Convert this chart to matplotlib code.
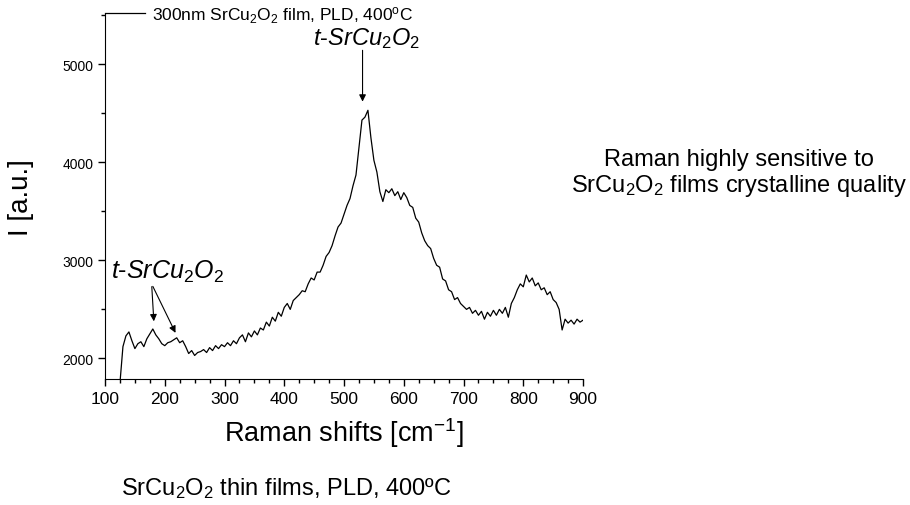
import numpy as np
import matplotlib
matplotlib.use("Agg")
import matplotlib.pyplot as plt
from matplotlib.ticker import MultipleLocator

plt.rcParams['font.family'] = ['Liberation Sans', 'DejaVu Sans']
plt.rcParams['mathtext.fontset'] = 'custom'
plt.rcParams['mathtext.rm'] = 'Liberation Sans'
plt.rcParams['mathtext.it'] = 'Liberation Sans:italic'

# Raman spectrum, every 5 cm-1 starting at 125
start_shift = 125
step = 5
intensity = [
    1750, 2120, 2230, 2270, 2180, 2100, 2150, 2170, 2120, 2200,   # 125-170
    2250, 2300, 2240, 2200, 2150, 2130, 2160, 2170, 2190, 2210,   # 175-220
    2160, 2180, 2120, 2050, 2080, 2030, 2060, 2070, 2090, 2060,   # 225-270
    2110, 2080, 2130, 2100, 2140, 2120, 2160, 2130, 2180, 2150,   # 275-320
    2210, 2240, 2170, 2260, 2220, 2280, 2240, 2310, 2290, 2370,   # 325-370
    2330, 2420, 2380, 2470, 2430, 2520, 2560, 2500, 2590, 2620,   # 375-420
    2650, 2690, 2680, 2760, 2820, 2800, 2880, 2880, 2950, 3040,   # 425-470
    3080, 3150, 3250, 3340, 3380, 3470, 3560, 3630, 3760, 3870,   # 475-520
    4150, 4430, 4460, 4530, 4250, 4020, 3900, 3700, 3600, 3720,   # 525-570
    3690, 3730, 3660, 3700, 3620, 3690, 3640, 3560, 3540, 3430,   # 575-620
    3390, 3280, 3200, 3150, 3120, 3020, 2950, 2930, 2810, 2790,   # 625-670
    2700, 2680, 2600, 2620, 2560, 2530, 2500, 2520, 2460, 2490,   # 675-720
    2440, 2480, 2400, 2470, 2430, 2490, 2440, 2500, 2460, 2520,   # 725-770
    2420, 2560, 2620, 2700, 2760, 2730, 2850, 2780, 2820, 2740,   # 775-820
    2770, 2700, 2720, 2650, 2680, 2600, 2570, 2500, 2290, 2400,   # 825-870
    2360, 2390, 2350, 2400, 2370, 2390,                           # 875-900
]
shift = start_shift + step * np.arange(len(intensity))

# peak annotations: (arrow start x, y, arrow tip x, y)
peak_main = (531, 5170, 531, 4590)
peak_low = [(178, 2760, 182, 2350), (178, 2760, 220, 2235)]

fig = plt.figure(figsize=(9.1, 5.06), dpi=100)
ax = fig.add_axes([0.1154, 0.249, 0.5253, 0.721])

ax.plot(shift, intensity, color='black', lw=0.9,
        label=r'300nm SrCu$_2$O$_2$ film, PLD, 400$^{\rm o}$C')

ax.set_xlim(100, 900)
ax.set_ylim(1790, 5510)
ax.xaxis.set_major_locator(MultipleLocator(100))
ax.xaxis.set_minor_locator(MultipleLocator(25))
ax.yaxis.set_major_locator(MultipleLocator(1000))
ax.yaxis.set_minor_locator(MultipleLocator(500))
ax.spines['top'].set_visible(False)
ax.spines['right'].set_visible(False)
ax.tick_params(which='major', length=5, width=1, direction='out')
ax.tick_params(which='minor', length=3, width=1, direction='out')
ax.tick_params(axis='x', labelsize=12.5)
ax.tick_params(axis='y', labelsize=10)

ax.set_xlabel(r'Raman shifts [cm$^{-1}$]', fontsize=19.5, labelpad=7)
ax.set_ylabel('I [a.u.]', fontsize=20, labelpad=20)

ax.legend(loc='center left', bbox_to_anchor=(0.0, 1.0), frameon=False,
          handlelength=2.3, handletextpad=0.4, borderaxespad=0, borderpad=0,
          fontsize=12.5)

# peak labels
ax.text(538, 5275, r'$t$-$SrCu_2O_2$', fontsize=17, ha='center', va='center')
ax.annotate('', xy=peak_main[2:], xytext=peak_main[:2],
            arrowprops=dict(arrowstyle='-|>', color='black', lw=0.8, mutation_scale=10))
ax.text(205, 2890, r'$t$-$SrCu_2O_2$', fontsize=18, ha='center', va='center')
for x0, y0, x1, y1 in peak_low:
    ax.annotate('', xy=(x1, y1), xytext=(x0, y0),
                arrowprops=dict(arrowstyle='-|>', color='black', lw=0.8, mutation_scale=10))

fig.text(0.8125, 0.657, 'Raman highly sensitive to\n' + r'SrCu$_2$O$_2$ films crystalline quality',
         fontsize=17, ha='center', va='center', linespacing=1.1)
fig.text(0.133, 0.034, r'SrCu$_2$O$_2$ thin films, PLD, 400ºC', fontsize=17,
         ha='left', va='center')

fig.savefig('out.png', dpi=100)
